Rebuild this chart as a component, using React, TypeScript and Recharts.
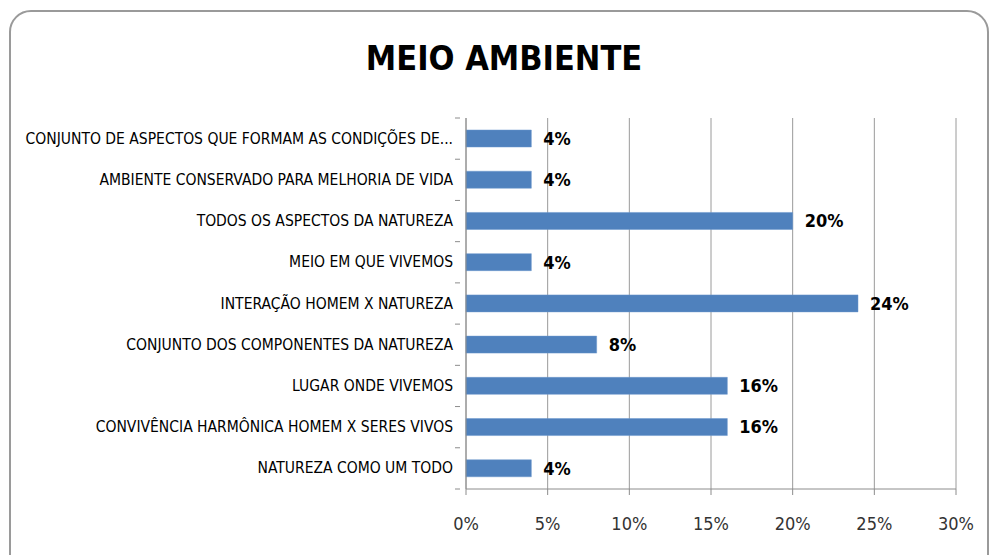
import { BarChart, Bar, XAxis, YAxis, CartesianGrid, LabelList } from "recharts";

const CATEGORIES = [
  "CONJUNTO DE ASPECTOS QUE FORMAM AS CONDIÇÕES DE...",
  "AMBIENTE CONSERVADO PARA MELHORIA DE VIDA",
  "TODOS OS ASPECTOS DA NATUREZA",
  "MEIO EM QUE VIVEMOS",
  "INTERAÇÃO HOMEM X NATUREZA",
  "CONJUNTO DOS COMPONENTES DA NATUREZA",
  "LUGAR ONDE VIVEMOS",
  "CONVIVÊNCIA HARMÔNICA HOMEM X SERES VIVOS",
  "NATUREZA COMO UM TODO",
];
const VALUES = [4, 4, 20, 4, 24, 8, 16, 16, 4];
const X_TICKS = [0, 5, 10, 15, 20, 25, 30];

const FONT = "'DejaVu Sans Condensed', 'Liberation Sans', sans-serif";
const BAND = (489 - 118) / CATEGORIES.length;

const data = CATEGORIES.map((name, i) => ({ name, value: VALUES[i] }));

function CategoryTick(props: any) {
  const { x, y, payload, index } = props;
  const axisX = x + 7;
  return (
    <g>
      <line x1={axisX - 5} x2={axisX} y1={y - BAND / 2} y2={y - BAND / 2} stroke="#8c8c8c" />
      {index === CATEGORIES.length - 1 && (
        <line x1={axisX - 5} x2={axisX} y1={y + BAND / 2} y2={y + BAND / 2} stroke="#8c8c8c" />
      )}
      <text x={x} y={y} dy={5} textAnchor="end" fontSize={15.5} fill="#000" fontFamily={FONT}>
        {payload.value}
      </text>
    </g>
  );
}

export default function App() {
  return (
    <div style={{ position: "fixed", left: 0, top: 0, width: 989, height: 555, background: "#fff", overflow: "hidden" }}>
      <div
        style={{
          position: "absolute",
          left: 9,
          top: 10,
          width: 976,
          height: 600,
          border: "2px solid #9a9a9a",
          borderRadius: 22,
        }}
      />
      <div
        style={{
          position: "absolute",
          left: 0,
          width: 1008,
          top: 38,
          textAlign: "center",
          fontFamily: FONT,
          fontWeight: "bold",
          fontSize: 34,
          color: "#000",
        }}
      >
        MEIO AMBIENTE
      </div>
      <BarChart
        width={989}
        height={555}
        data={data}
        layout="vertical"
        margin={{ top: 118, right: 33, bottom: 36, left: 0 }}
        style={{ position: "absolute", left: 0, top: 0 }}
      >
        <CartesianGrid horizontal={false} stroke="#9a9a9a" />
        <XAxis
          type="number"
          domain={[0, 30]}
          ticks={X_TICKS}
          interval={0}
          tickFormatter={(v) => `${v}%`}
          axisLine={{ stroke: "#8c8c8c" }}
          tickLine={{ stroke: "#8c8c8c" }}
          tickSize={6}
          tickMargin={22}
          tick={{ fontSize: 18, fill: "#333", fontFamily: FONT }}
        />
        <YAxis
          type="category"
          dataKey="name"
          width={466}
          axisLine={{ stroke: "#8c8c8c" }}
          tickLine={false}
          tickMargin={7}
          interval={0}
          tick={<CategoryTick />}
        />
        <Bar dataKey="value" fill="#4f81bd" stroke="#6b97cc" strokeWidth={0.5} barSize={17} isAnimationActive={false}>
          <LabelList
            dataKey="value"
            position="right"
            offset={12}
            formatter={(v: any) => `${v}%`}
            style={{ fontSize: 18, fontWeight: "bold", fill: "#000", fontFamily: FONT }}
          />
        </Bar>
      </BarChart>
    </div>
  );
}
